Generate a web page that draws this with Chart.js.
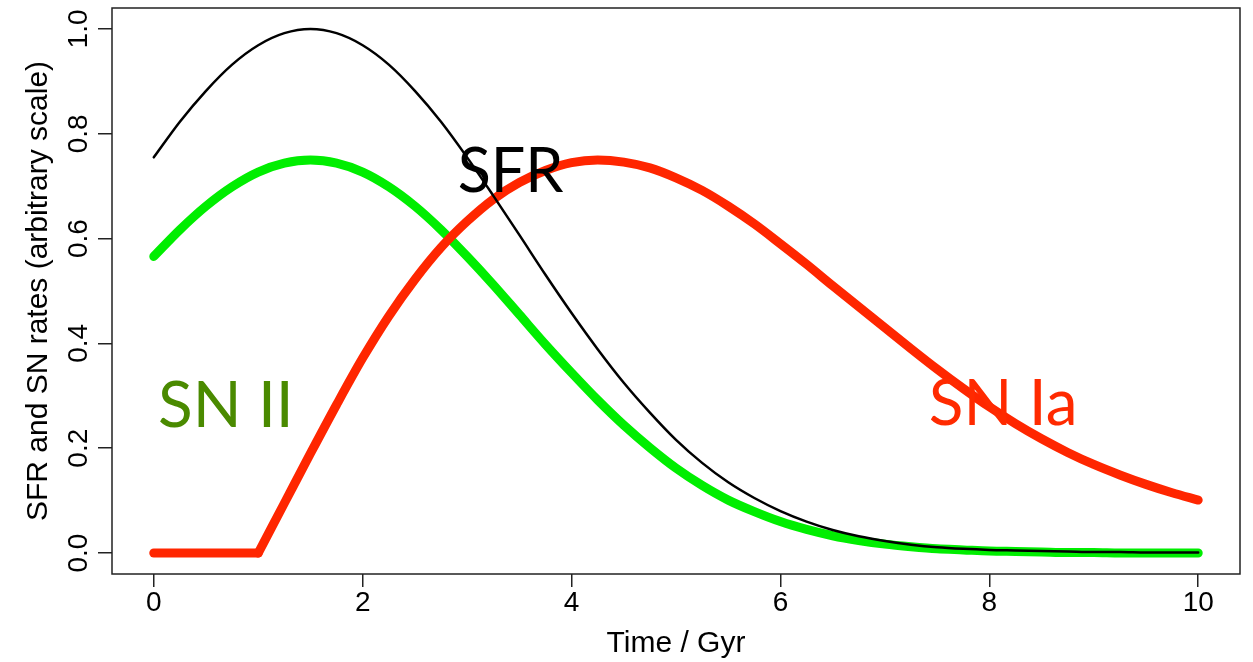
<!DOCTYPE html>
<html>
<head>
<meta charset="utf-8">
<script src="https://cdn.jsdelivr.net/npm/chart.js@4.4.1/dist/chart.umd.min.js"></script>
<style>
  html, body { margin: 0; padding: 0; background: #fff; }
  #wrap { width: 1253px; height: 662px; }
</style>
</head>
<body>
<div id="wrap"><canvas id="myChart" width="1253" height="662"></canvas></div>
<script>
// time sampling (Gyr)
const times = [0, 0.25, 0.5, 0.75, 1, 1.25, 1.5, 1.75, 2, 2.25, 2.5, 2.75, 3, 3.25, 3.5, 3.75,
    4, 4.25, 4.5, 4.75, 5, 5.25, 5.5, 5.75, 6, 6.25, 6.5, 6.75, 7, 7.25, 7.5, 7.75,
    8, 8.25, 8.5, 8.75, 9, 9.25, 9.5, 9.75, 10];

const sfr = [0.755, 0.823, 0.882, 0.932, 0.969, 0.992, 1.0, 0.992, 0.969, 0.932, 0.882, 0.823,
    0.755, 0.682, 0.607, 0.531, 0.458, 0.389, 0.325, 0.268, 0.216, 0.172, 0.135, 0.105,
    0.080, 0.060, 0.044, 0.032, 0.023, 0.016, 0.011, 0.008, 0.006, 0.005, 0.004, 0.003,
    0.002, 0.002, 0.001, 0.001, 0.001];

const snII = [0.566, 0.617, 0.662, 0.699, 0.727, 0.744, 0.750, 0.744, 0.727, 0.699, 0.662, 0.617,
    0.566, 0.512, 0.455, 0.398, 0.344, 0.292, 0.244, 0.201, 0.162, 0.129, 0.101, 0.079,
    0.060, 0.045, 0.033, 0.024, 0.017, 0.012, 0.008, 0.006, 0.004, 0.003, 0.002, 0.001,
    0.001, 0, 0, 0, 0];

const snIa = [0, 0, 0, 0, 0, 0.095, 0.19, 0.283, 0.372, 0.452, 0.522, 0.583,
    0.633, 0.675, 0.707, 0.73, 0.745, 0.75, 0.746, 0.735, 0.716, 0.692, 0.662, 0.628,
    0.59, 0.551, 0.51, 0.47, 0.43, 0.39, 0.351, 0.314, 0.279, 0.247, 0.218, 0.192,
    0.169, 0.149, 0.131, 0.115, 0.101];

// SN Ia switches on at 1 Gyr (index 4 in times)
const snIaOnset = 4;

const xTicks = [0, 2, 4, 6, 8, 10];
const yTicks = [0, 0.2, 0.4, 0.6, 0.8, 1.0];

// curve labels, placed in data coordinates (left edge, baseline)
const curveLabels = [
    { text: 'SFR', x: 2.91, y: 0.688, color: '#000000' },
    { text: 'SN II', x: 0.04, y: 0.240, color: '#4a8a00' },
    { text: 'SN Ia', x: 7.42, y: 0.244, color: '#ff2a00' }
];

const toPoints = (vals, from = 0, to = vals.length) =>
    vals.slice(from, to).map((v, i) => ({ x: times[from + i], y: v }));

const boxPlugin = {
    id: 'box',
    afterDraw(chart) {
        const a = chart.chartArea;
        const ctx = chart.ctx;
        ctx.save();
        ctx.strokeStyle = '#222';
        ctx.lineWidth = 1.5;
        ctx.strokeRect(a.left, a.top, a.right - a.left, a.bottom - a.top);
        ctx.restore();
    }
};

const labelPlugin = {
    id: 'curveLabels',
    afterDatasetsDraw(chart) {
        const ctx = chart.ctx;
        const xs = chart.scales.x, ys = chart.scales.y;
        ctx.save();
        ctx.textAlign = 'left';
        ctx.textBaseline = 'alphabetic';
        for (const l of curveLabels) {
            ctx.font = (l.text === 'SFR' ? '61px' : '64px') + ' Lato';
            ctx.fillStyle = l.color;
            ctx.fillText(l.text, xs.getPixelForValue(l.x), ys.getPixelForValue(l.y));
        }
        ctx.restore();
    }
};

const axisFont = { family: 'Liberation Sans', size: 28 };
const titleFont = { family: 'Liberation Sans', size: 30 };

const ctx = document.getElementById('myChart').getContext('2d');
const myChart = new Chart(ctx, {
    type: 'line',
    data: {
        datasets: [
            { label: 'SFR', data: toPoints(sfr), borderColor: '#000000', borderWidth: 2.5 },
            // SN Ia drawn as the flat part and the rising part so the kink at 1 Gyr stays sharp
            { label: 'SN Ia', data: toPoints(snIa, 0, snIaOnset + 1), borderColor: '#ff2600', borderWidth: 9 },
            { label: 'SN Ia', data: toPoints(snIa, snIaOnset), borderColor: '#ff2600', borderWidth: 9 },
            { label: 'SN II', data: toPoints(snII), borderColor: '#00ee00', borderWidth: 9 }
        ]
    },
    options: {
        responsive: false,
        animation: false,
        devicePixelRatio: 1,
        layout: { padding: { top: 8, right: 13, left: 0, bottom: 0 } },
        elements: {
            point: { radius: 0 },
            line: { cubicInterpolationMode: 'monotone', borderCapStyle: 'round', borderJoinStyle: 'round' }
        },
        plugins: {
            legend: { display: false },
            tooltip: { enabled: false }
        },
        scales: {
            x: {
                type: 'linear',
                min: -0.4,
                max: 10.4,
                afterBuildTicks: (s) => { s.ticks = xTicks.map(v => ({ value: v })); },
                afterFit: (s) => { s.height = 88; s.paddingLeft = 0; s.paddingRight = 0; },
                grid: { drawOnChartArea: false, drawTicks: true, tickLength: 13, color: '#222', lineWidth: 1.5 },
                border: { display: false },
                ticks: { color: '#000', font: axisFont, padding: -1, maxRotation: 0, callback: v => String(v) },
                title: { display: true, text: 'Time / Gyr', color: '#000', font: titleFont, padding: { top: 0, bottom: 0 } }
            },
            y: {
                type: 'linear',
                min: -0.04,
                max: 1.04,
                afterBuildTicks: (s) => { s.ticks = yTicks.map(v => ({ value: v })); },
                afterFit: (s) => { s.width = 112; s.paddingTop = 0; s.paddingBottom = 0; },
                grid: { drawOnChartArea: false, drawTicks: true, tickLength: 14, color: '#222', lineWidth: 1.5 },
                border: { display: false },
                ticks: {
                    color: '#000', font: axisFont, padding: -1,
                    minRotation: 90, maxRotation: 90, crossAlign: 'center',
                    callback: v => v.toFixed(1)
                },
                title: { display: true, text: 'SFR and SN rates (arbitrary scale)', color: '#000', font: titleFont, padding: { top: 21, bottom: 0 } }
            }
        }
    },
    plugins: [boxPlugin, labelPlugin]
});
</script>
</body>
</html>
